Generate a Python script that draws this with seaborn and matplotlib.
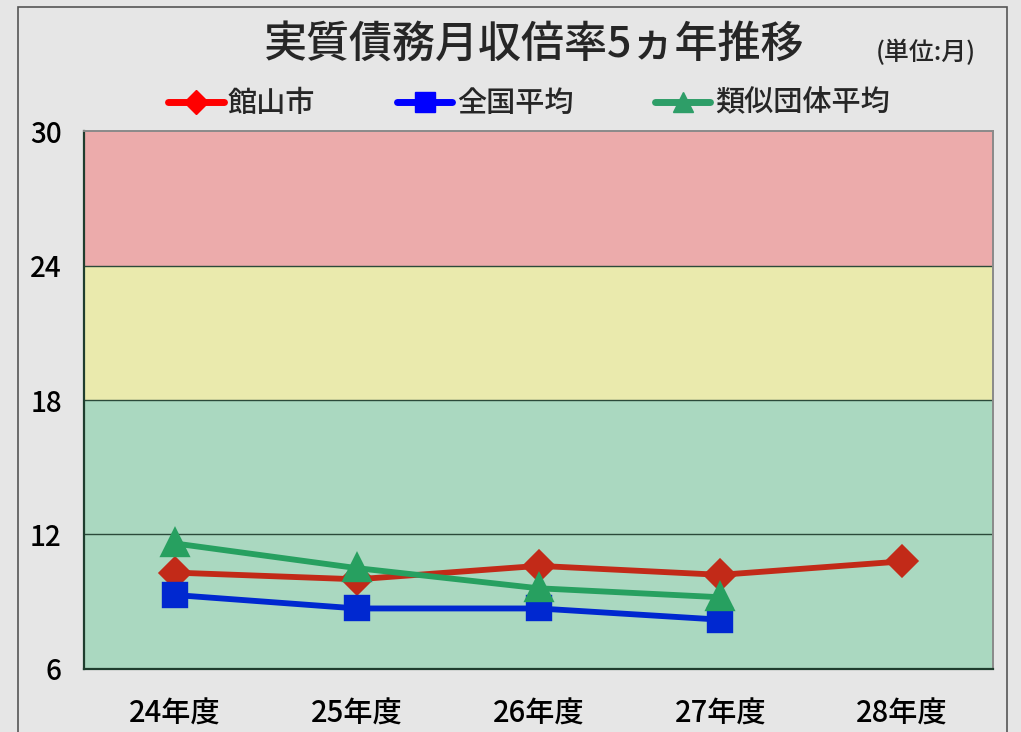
import pandas as pd
import seaborn as sns
import matplotlib.pyplot as plt
from matplotlib.patches import Rectangle

# data
years = ['24年度', '25年度', '26年度', '27年度', '28年度']
tateyama = [10.3, 10.0, 10.6, 10.2, 10.8]
zenkoku = [9.3, 8.7, 8.7, 8.2, None]
ruiji = [11.6, 10.5, 9.6, 9.2, None]
series_names = ['館山市', '全国平均', '類似団体平均']

df = pd.DataFrame({
    'year': years * 3,
    'value': tateyama + zenkoku + ruiji,
    'series': [series_names[0]] * 5 + [series_names[1]] * 5 + [series_names[2]] * 5,
})

sns.set_theme(style='white')
plt.rcParams['font.family'] = ['Noto Sans CJK JP', 'DejaVu Sans']

fig = plt.figure(figsize=(10.21, 7.32), dpi=100, facecolor='#e6e6e6')
ax = fig.add_axes([0.0823, 0.0861, 0.8903, 0.7349])

# background bands
ax.axhspan(24, 30, color='#ecabab', zorder=0, lw=0)
ax.axhspan(18, 24, color='#eaeaad', zorder=0, lw=0)
ax.axhspan(6, 18, color='#aad8c0', zorder=0, lw=0)
for yv in [12, 18, 24]:
    ax.axhline(yv, color='#2b4a3a', lw=1.0, zorder=1)

line_colors = ['#c22a18', '#0028d0', '#27a060']
legend_colors = ['#ff0000', '#0000ff', '#2e9e68']
markers = ['D', 's', '^']
msizes = [14, 16, 17]

for name, c, m, ms in zip(series_names, line_colors, markers, msizes):
    sub = df[df['series'] == name]
    sns.pointplot(data=sub, x='year', y='value', order=years, color=c,
                  marker=m, markersize=ms, linewidth=4.2, errorbar=None, ax=ax,
                  zorder=3)

ax.set_xlim(-0.5, 4.5)
ax.set_ylim(6, 30)
ax.set_yticks([6, 12, 18, 24, 30])
ax.set_xlabel('')
ax.set_ylabel('')
ax.set_facecolor('#aad8c0')
ax.tick_params(axis='y', length=0, pad=16, labelsize=20, colors='black')
ax.tick_params(axis='x', length=0, pad=21, labelsize=21, colors='black')
for lab in ax.get_xticklabels() + ax.get_yticklabels():
    lab.set_fontweight('medium')
ax.set_xticks([0.5, 1.5, 2.5, 3.5], minor=True)
ax.tick_params(axis='x', which='minor', direction='in', length=7, color='#2b4a3a', width=1.2)
for s in ['left', 'bottom']:
    ax.spines[s].set_color('#1f3d2e')
    ax.spines[s].set_linewidth(1.6)
for s in ['top', 'right']:
    ax.spines[s].set_color('#8a8a8a')
    ax.spines[s].set_linewidth(1.4)

# legend
handles = [plt.Line2D([], [], color=c, marker=m, markersize=ms - 2, linewidth=5)
           for c, m, ms in zip(legend_colors, markers, msizes)]
fig.legend(handles, series_names, loc='center', bbox_to_anchor=(0.518, 0.859), ncol=3,
           frameon=False, fontsize=21, handlelength=1.9, handletextpad=0.15,
           columnspacing=2.8, prop={'size': 21, 'weight': 'medium'})

fig.text(0.523, 0.94, '実質債務月収倍率5ヵ年推移', ha='center', va='center',
         fontsize=31, fontweight='medium')
fig.text(0.907, 0.928, '(単位:月)', ha='center', va='center', fontsize=18, fontweight='medium')

# outer frame
fig.patches.append(Rectangle((18 / 1021, -0.05), (1007 - 18) / 1021, 1.05 - 7 / 732,
                             transform=fig.transFigure, fill=False, edgecolor='#555555', lw=1.2))

fig.savefig('out.png', dpi=100, facecolor=fig.get_facecolor())
